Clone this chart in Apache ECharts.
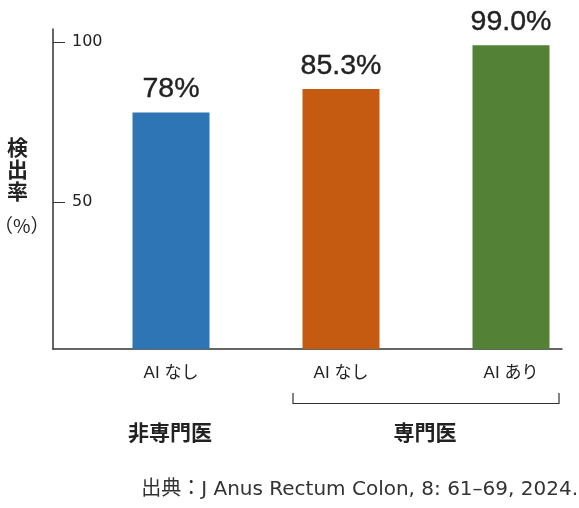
<!DOCTYPE html>
<html><head><meta charset="utf-8">
<script src="https://cdn.jsdelivr.net/npm/echarts@6/dist/echarts.min.js"></script>
<style>html,body{margin:0;padding:0;background:#fff}#c{width:579px;height:508px}</style>
</head><body><div id="c"></div>
<script>
const categories = ['AI なし', 'AI なし', 'AI あり'];
const values = [78, 85.3, 99.0];
const valueLabels = ['78%', '85.3%', '99.0%'];
const colors = ['#2E75B6', '#C55A11', '#538135'];
const yTicks = [50, 100];
const groups = ['非専門医', '専門医'];
const yName = '検出率';
const yUnit = '（%）';
const source = '出典：J Anus Rectum Colon, 8: 61–69, 2024.';

const FONT = "'Liberation Sans', 'Noto Sans CJK JP', sans-serif";
const chart = echarts.init(document.getElementById('c'), null, {renderer: 'canvas'});
const catIdx = categories.map((_, i) => i);
chart.setOption({
  animation: false,
  grid: {left: 53, top: 29, right: 17, bottom: 159, containLabel: false},
  xAxis: {
    type: 'value', min: -0.694, max: 2.3,
    splitLine: {show: false},
    axisLine: {show: true, lineStyle: {color: '#333', width: 1.5}},
    axisTick: {show: false},
    axisLabel: {
      customValues: catIdx,
      formatter: v => categories[Math.round(v)],
      color: '#222', fontSize: 17, fontFamily: FONT, margin: 16
    }
  },
  yAxis: {
    type: 'value', min: 4.06, max: 104.06,
    splitLine: {show: false},
    axisLine: {show: true, onZero: false, lineStyle: {color: '#333', width: 1.5}},
    axisTick: {show: true, inside: true, length: 12, customValues: yTicks, lineStyle: {color: '#333', width: 1}},
    axisLabel: {show: true, inside: true, customValues: yTicks, margin: 19, color: '#222', fontSize: 16, fontFamily: "'DejaVu Sans', sans-serif"}
  },
  series: [{
    type: 'bar',
    barWidth: 77,
    data: values.map((v, i) => ({value: [i, v], itemStyle: {color: colors[i]}})),
    label: {
      show: true, position: 'top', distance: 9,
      formatter: p => valueLabels[p.dataIndex],
      fontSize: 28.5, fontFamily: FONT, color: '#222',
      textBorderColor: '#222', textBorderWidth: 0.4
    }
  }],
  graphic: [
    {type: 'text', left: 7, top: 136, style: {text: yName.split('').join('\n'), font: "bold 21px 'Noto Sans CJK JP'", fill: '#222', lineHeight: 22}},
    {type: 'text', left: -6, top: 216, style: {text: yUnit, font: "19px 'Noto Sans CJK JP'", fill: '#222'}},
    {type: 'polyline', shape: {points: [[293, 393], [293, 403.5], [559, 403.5], [559, 393]]}, style: {stroke: '#333', lineWidth: 1.2, fill: null}},
    {type: 'text', x: 170, y: 432, style: {text: groups[0], font: "bold 21px 'Noto Sans CJK JP'", fill: '#222', align: 'center', verticalAlign: 'middle'}},
    {type: 'text', x: 425, y: 432, style: {text: groups[1], font: "bold 21px 'Noto Sans CJK JP'", fill: '#222', align: 'center', verticalAlign: 'middle'}},
    {type: 'text', x: 578, y: 490, style: {text: source, font: "20px 'DejaVu Sans', 'Noto Sans CJK JP'", fill: '#333', align: 'right', verticalAlign: 'middle'}}
  ]
});
</script></body></html>
